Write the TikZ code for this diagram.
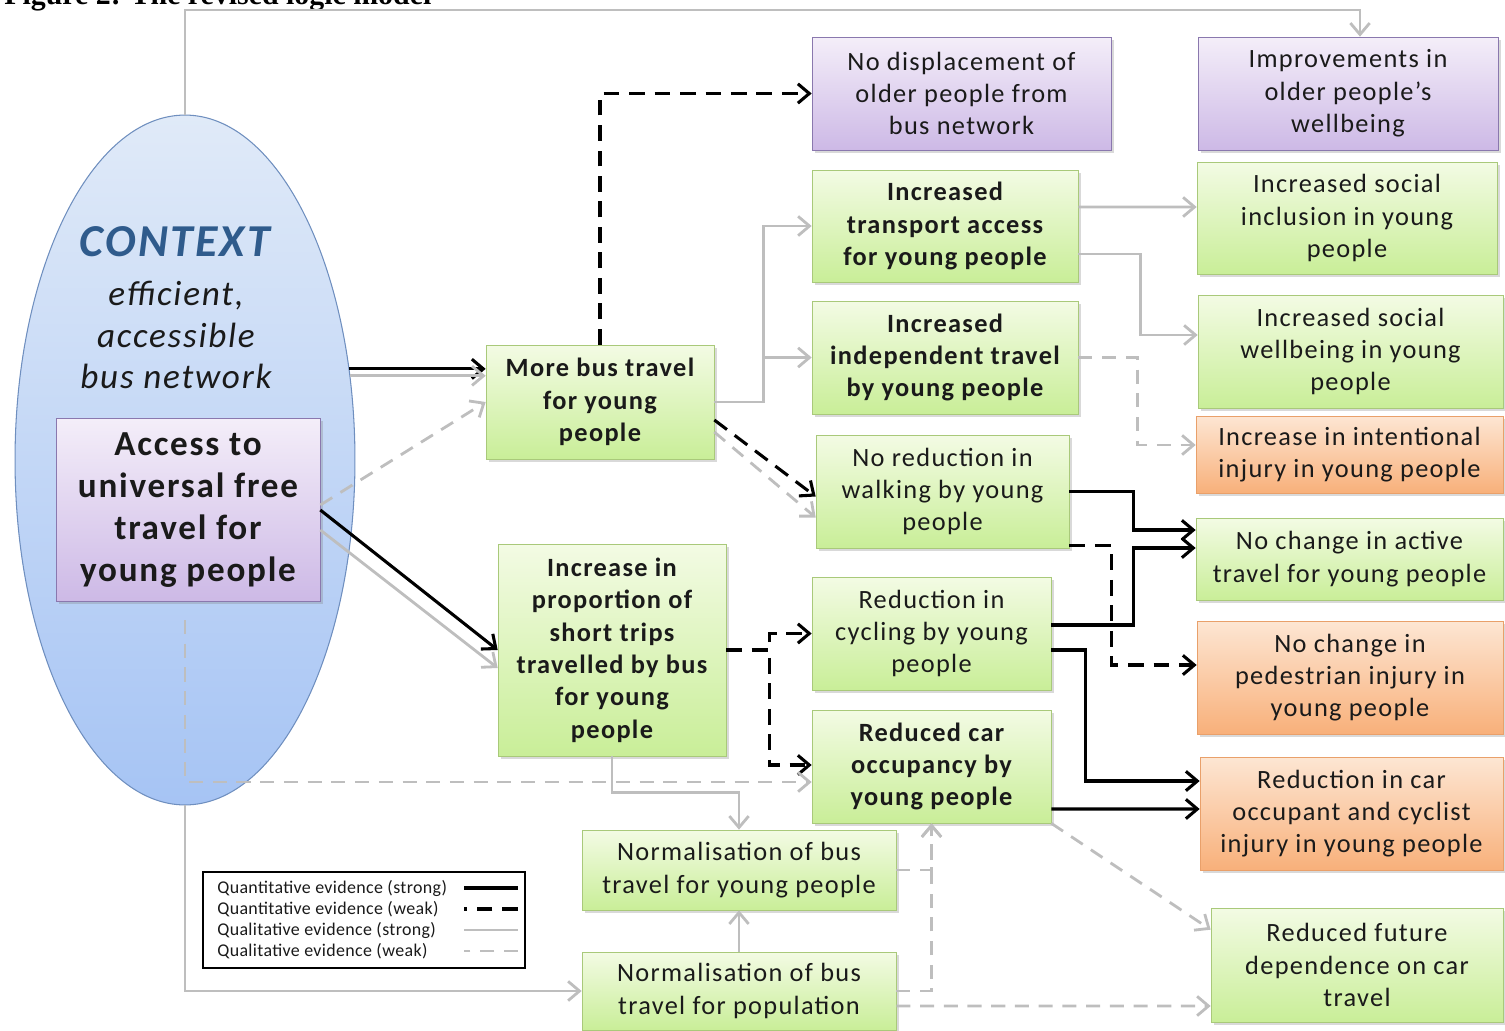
\documentclass[tikz,border=0pt]{standalone}
\usepackage{fontspec}
\setmainfont{Carlito}[LetterSpace=5.0]
\newfontfamily\capfont{Liberation Serif}
\usepackage{tikz}
\usetikzlibrary{positioning, arrows.meta, shapes.geometric, shadows}

\definecolor{gtop}{HTML}{F3FBE4}
\definecolor{gbot}{HTML}{C9EE98}
\definecolor{gline}{HTML}{A9C97A}
\definecolor{ptop}{HTML}{F4EEF9}
\definecolor{pbot}{HTML}{CDB9E6}
\definecolor{pline}{HTML}{8A78AE}
\definecolor{otop}{HTML}{FDE6D3}
\definecolor{obot}{HTML}{F8B07A}
\definecolor{oline}{HTML}{E9A06A}
\definecolor{etop}{HTML}{E0EAF8}
\definecolor{ebot}{HTML}{A6C4F4}
\definecolor{eline}{HTML}{6F8FBF}
\definecolor{ctxblue}{HTML}{2F5B8C}
\definecolor{arrgray}{HTML}{BEBEBE}
\definecolor{ink}{HTML}{1A1A1A}

\begin{document}
\begin{tikzpicture}[x=0.02cm, y=-0.02cm,
	gbox/.style={rectangle, draw=gline, top color=gtop, bottom color=gbot, align=center, text=ink, inner sep=2pt, font=\fontsize{15}{18.4}\selectfont, drop shadow={shadow xshift=1.6pt, shadow yshift=-1.6pt, opacity=0.3}},
	pbox/.style={gbox, draw=pline, top color=ptop, bottom color=pbot},
	obox/.style={gbox, draw=oline, top color=otop, bottom color=obot},
	bld/.style={font=\fontsize{15}{18.4}\selectfont\bfseries},
	quanS/.style={draw=black, line width=1.75pt, -{Straight Barb[length=6.5pt,width=11pt]}},
	quanW/.style={quanS, dash pattern=on 9pt off 5.5pt},
	qualS/.style={draw=arrgray, line width=1.6pt, -{Straight Barb[length=6.5pt,width=11pt]}},
	qualW/.style={qualS, dash pattern=on 8pt off 5.5pt},
	legtxt/.style={font=\fontsize{10.2}{12}\selectfont\addfontfeature{LetterSpace=2.0}, text=ink, inner sep=0pt, anchor=west}]

	\useasboundingbox (0,0) rectangle (1505,1031);

	% title, cut by the top edge %
	\node[anchor=base west, inner sep=0, font=\capfont\fontsize{17}{20}\selectfont\bfseries] (ttl) at (4,5) {Figure 2: The revised logic model};

	% nodes - context ellipse %
	\node[ellipse, draw=eline, line width=0.6pt, top color=etop, bottom color=ebot, minimum width=6.8cm, minimum height=13.8cm, inner sep=0] (ctx) at (185,460) {};
	\node[font=\fontsize{26}{30}\selectfont\bfseries\itshape, text=ctxblue] (ctxt) at (175,242) {CONTEXT};
	\node[font=\fontsize{20}{23.8}\selectfont\itshape, align=center, text=ink] (ctxs) at (176,335) {efficient,\\accessible\\bus network};
	\node[pbox, font=\fontsize{20}{23.8}\selectfont\bfseries, minimum width=5.28cm, minimum height=3.66cm] (acc) at (188,510) {Access to\\universal free\\travel for\\young people};

	% nodes - middle column %
	\node[gbox, bld, minimum width=4.56cm, minimum height=2.28cm] (bus) at (600,402) {More bus travel\\for young\\people};
	\node[gbox, bld, minimum width=4.56cm, minimum height=4.24cm] (prop) at (612,650) {Increase in\\proportion of\\short trips\\travelled by bus\\for young\\people};
	\node[gbox, minimum width=6.28cm, minimum height=1.6cm] (normy) at (739,870) {Normalisation of bus\\travel for young people};
	\node[gbox, minimum width=6.28cm, minimum height=1.56cm] (normp) at (739,991) {Normalisation of bus\\travel for population};

	% nodes - third column %
	\node[pbox, minimum width=5.98cm, minimum height=2.26cm] (disp) at (961.5,93.5) {No displacement of\\older people from\\bus network};
	\node[gbox, bld, minimum width=5.32cm, minimum height=2.24cm] (tra) at (945,226) {Increased\\transport access\\for young people};
	\node[gbox, bld, minimum width=5.32cm, minimum height=2.26cm] (ind) at (945,357.5) {Increased\\independent travel\\by young people};
	\node[gbox, minimum width=5.06cm, minimum height=2.26cm] (walk) at (942.5,491.5) {No reduction in\\walking by young\\people};
	\node[gbox, minimum width=4.78cm, minimum height=2.26cm] (cyc) at (931.5,633.5) {Reduction in\\cycling by young\\people};
	\node[gbox, bld, minimum width=4.78cm, minimum height=2.26cm] (car) at (931.5,766.5) {Reduced car\\occupancy by\\young people};

	% nodes - outcomes %
	\node[pbox, minimum width=6cm, minimum height=2.26cm] (old) at (1348,93.5) {Improvements in\\older people's\\wellbeing};
	\node[gbox, minimum width=6cm, minimum height=2.24cm] (incl) at (1347,218) {Increased social\\inclusion in young\\people};
	\node[gbox, minimum width=6.1cm, minimum height=2.26cm] (swb) at (1350.5,351.5) {Increased social\\wellbeing in young\\people};
	\node[obox, minimum width=6.14cm, minimum height=1.54cm] (intn) at (1349.5,454.5) {Increase in intentional\\injury in young people};
	\node[gbox, minimum width=6.14cm, minimum height=1.64cm] (act) at (1349.5,559) {No change in active\\travel for young people};
	\node[obox, minimum width=6.12cm, minimum height=2.26cm] (ped) at (1350,677.5) {No change in\\pedestrian injury in\\young people};
	\node[obox, minimum width=6.06cm, minimum height=2.26cm] (cinj) at (1351.5,813.5) {Reduction in car\\occupant and cyclist\\injury in young people};
	\node[gbox, minimum width=5.84cm, minimum height=2.28cm] (fut) at (1357,965) {Reduced future\\dependence on car\\travel};

	% legend %
	\node[draw=black, line width=1pt, fill=white, minimum width=6.44cm, minimum height=1.92cm] (leg) at (364,920) {};
	\node[legtxt] (l1) at (217,888) {Quantitative evidence (strong)};
	\node[legtxt] (l2) at (217,909) {Quantitative evidence (weak)};
	\node[legtxt] (l3) at (217,930) {Qualitative evidence (strong)};
	\node[legtxt] (l4) at (217,951) {Qualitative evidence (weak)};
	\draw[quanS, -] (leg.east |- l1) ++(-8,0) -- ++(-54,0);
	\draw[quanW, -] (leg.east |- l2) ++(-8,0) -- ++(-54,0);
	\draw[qualS, -] (leg.east |- l3) ++(-8,0) -- ++(-54,0);
	\draw[qualW, -] (leg.east |- l4) ++(-8,0) -- ++(-54,0);

	% edges %
	\coordinate (topr) at (1360,10);
	\coordinate (ctxin) at (185,620);
	\draw[qualS] (ctx.north) |- (topr) -- (topr |- old.north);
	\draw[quanS] (ctx.29) -- (ctx.29 -| bus.west);
	\draw[qualS] (ctx.27) -- (ctx.27 -| bus.west);
	\draw[qualW] ([yshift=0.1cm]acc.east) -- (bus.west);
	\draw[quanS] (acc.east) -- (prop.west);
	\draw[qualS] ([yshift=-0.4cm]acc.east) -- ([yshift=-0.36cm]prop.west);
	\draw[quanW] (bus.north) |- (disp.west);
	\draw[qualS] (bus.east) -- ++(49,0) |- (tra.west);
	\draw[qualS] (bus.east) -- ++(49,0) |- (ind.west);
	\draw[quanW] ([yshift=-0.36cm]bus.east) -- ([yshift=-0.1cm]walk.west);
	\draw[qualW] ([yshift=-0.6cm]bus.east) -- ([yshift=-0.52cm]walk.west);
	\draw[qualS] ([yshift=0.38cm]tra.east) -- ([yshift=0.22cm]incl.west);
	\draw[qualS] ([yshift=-0.56cm]tra.east) -- ++(62,0) |- ([yshift=0.33cm]swb.west);
	\draw[qualW] (ind.east) -- ++(59,0) |- ([yshift=0.19cm]intn.west);
	\draw[quanS] (walk.east) -- ++(64,0) |- ([yshift=0.58cm]act.west);
	\draw[quanW] ([yshift=-1.08cm]walk.east) -- ++(42,0) |- ([yshift=0.25cm]ped.west);
	\draw[quanS] ([yshift=0.17cm]cyc.east) -- ++(82,0) |- ([yshift=0.22cm]act.west);
	\draw[quanS] ([yshift=-0.33cm]cyc.east) -- ++(34,0) |- ([yshift=0.65cm]cinj.west);
	\draw[quanS] ([yshift=-0.85cm]car.east) -- ([yshift=0.09cm]cinj.west);
	\draw[quanW] (prop.east) -- ++(43,0) |- (cyc.west);
	\draw[quanW] (prop.east) -- ++(43,0) |- ([yshift=0.03cm]car.west);
	\draw[qualW] (ctxin) |- ([yshift=-0.31cm]car.west);
	\draw[qualS] (prop.south) -- ++(0,36) -| (normy.north);
	\draw[qualS] (ctx.south) |- (normp.west);
	\draw[qualS] (normp.north) -- (normy.south);
	\draw[qualW] (normy.east) -| (car.south);
	\draw[qualW] (normp.east) -| (car.south);
	\draw[qualW] (car.south east) -- ([yshift=-0.44cm]fut.north west);
	\draw[qualW] ([yshift=-0.3cm]normp.east) -- ([yshift=-0.82cm]fut.west);

\end{tikzpicture}
\end{document}
